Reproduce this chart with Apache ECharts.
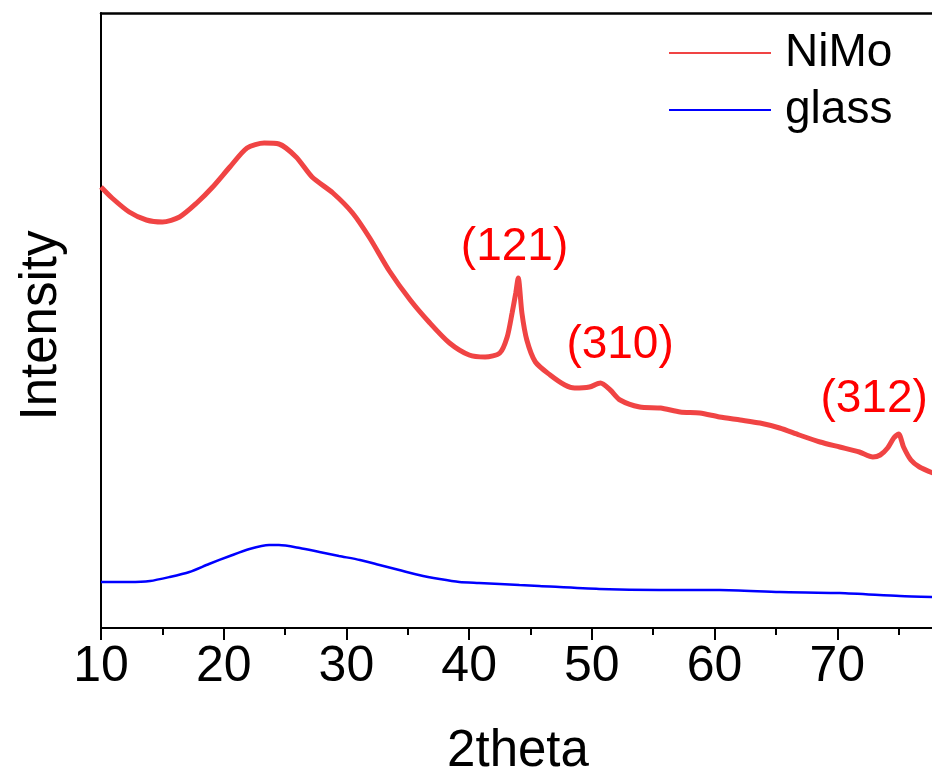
<!DOCTYPE html>
<html>
<head>
<meta charset="utf-8">
<script src="https://cdn.jsdelivr.net/npm/echarts@6/dist/echarts.min.js"></script>
<style>
  html, body { margin: 0; padding: 0; background: #fff; }
  #chart { width: 932px; height: 776px; }
</style>
</head>
<body>
<div id="chart"></div>
<script>
// XRD patterns: NiMo film on glass vs. bare glass substrate (arbitrary intensity units)
const twoThetaNiMo = [10.0, 10.9, 12.3, 13.7, 15.0, 16.4, 17.8, 19.1, 20.5, 21.9, 23.3, 24.5, 25.9, 27.2, 28.9, 30.5, 31.9, 33.5, 35.2, 36.8, 38.4, 40.0, 41.3, 42.5, 43.1, 43.5, 43.8, 44.0, 44.3, 44.7, 45.4, 46.6, 47.8, 48.6, 49.8, 50.7, 51.5, 52.3, 53.9, 55.6, 57.2, 58.8, 60.4, 62.1, 63.7, 65.3, 66.9, 68.6, 70.2, 71.8, 72.9, 73.5, 74.1, 74.6, 75.0, 75.4, 76.0, 76.7, 77.8];
const intensityNiMo = [441, 430, 416, 408, 406, 411, 425, 441, 461, 480, 485, 484, 471, 451, 435, 415, 390, 357, 328, 305, 285, 273, 271, 275, 291, 315, 335, 350, 315, 288, 266, 253, 243, 240, 241, 245, 238, 228, 221, 220, 216, 215, 211, 208, 205, 200, 193, 186, 181, 176, 171, 173, 180, 190, 194, 181, 168, 161, 155];

const twoThetaGlass = [10.0, 12.3, 14.0, 15.6, 17.2, 18.8, 20.5, 22.1, 23.7, 24.5, 26.2, 27.8, 29.4, 31.1, 32.7, 34.3, 35.9, 37.6, 39.2, 40.8, 42.5, 44.1, 45.7, 50.6, 55.5, 60.4, 65.3, 70.2, 75.1, 77.8];
const intensityGlass = [46, 46, 47, 51, 56, 64, 72, 79, 83, 83, 80, 76, 72, 68, 63, 58, 53, 49, 46, 45, 44, 43, 42, 39, 38, 38, 36, 35, 32, 31];

// Reflection labels and where they sit (2theta, intensity)
const peakLabels = ['(121)', '(310)', '(312)'];
const peakLabelTheta = [43.7, 52.3, 73.0];
const peakLabelIntensity = [381, 283, 229];

const seriesNames = ['NiMo', 'glass'];
const seriesColors = ['#F04444', '#0000FF'];

const zip = (xs, ys) => xs.map((x, i) => [x, ys[i]]);

const FONT = '"Liberation Sans", Arial, sans-serif';

const chart = echarts.init(document.getElementById('chart'));
chart.setOption({
  animation: false,
  backgroundColor: '#fff',
  // the 2theta axis runs on past the right edge of the canvas
  grid: {
    left: 101, top: 13, width: 859, height: 615,
    containLabel: false,
    outerBoundsMode: 'none'
  },
  legend: {
    orient: 'vertical',
    left: 669,
    top: 30,
    padding: 0,
    itemWidth: 102,
    itemHeight: 2,
    itemGap: 11,
    icon: 'rect',
    data: seriesNames,
    textStyle: { fontFamily: FONT, fontSize: 46, color: '#000', padding: [0, 0, 0, 9] }
  },
  xAxis: [
    {
      type: 'value',
      min: 10,
      max: 80,
      interval: 10,
      name: '2theta',
      nameLocation: 'middle',
      nameGap: 98,
      nameTextStyle: { fontFamily: FONT, fontSize: 51, color: '#000', padding: [0, 25, 0, 0] },
      axisLine: { lineStyle: { color: '#000', width: 2 } },
      axisTick: { inside: false, length: 12, lineStyle: { color: '#000', width: 2 } },
      minorTick: { show: true, splitNumber: 2, length: 7, lineStyle: { color: '#000', width: 2 } },
      axisLabel: { fontFamily: FONT, fontSize: 50, color: '#000', margin: 14, showMaxLabel: false },
      splitLine: { show: false }
    },
    {
      type: 'value',
      position: 'top',
      min: 10,
      max: 80,
      axisLine: { show: true, lineStyle: { color: '#000', width: 2.5 } },
      axisTick: { show: false },
      axisLabel: { show: false },
      splitLine: { show: false }
    }
  ],
  yAxis: {
    type: 'value',
    min: 0,
    max: 615,
    name: 'Intensity',
    nameLocation: 'middle',
    nameGap: 34,
    nameTextStyle: { fontFamily: FONT, fontSize: 51, color: '#000', padding: [0, 10, 0, 0] },
    axisLine: { show: true, lineStyle: { color: '#000', width: 2 } },
    axisTick: { show: false },
    axisLabel: { show: false },
    splitLine: { show: false }
  },
  series: [
    {
      name: seriesNames[0],
      type: 'line',
      data: zip(twoThetaNiMo, intensityNiMo),
      showSymbol: false,
      smooth: 0.25,
      color: seriesColors[0],
      lineStyle: { width: 5, color: seriesColors[0] },
      markPoint: {
        symbol: 'circle',
        symbolSize: 0,
        label: {
          show: true,
          position: 'inside',
          fontFamily: FONT,
          fontSize: 46,
          color: '#FF0000',
          formatter: p => p.name
        },
        data: peakLabels.map((t, i) => ({ name: t, coord: [peakLabelTheta[i], peakLabelIntensity[i]] }))
      }
    },
    {
      name: seriesNames[1],
      type: 'line',
      data: zip(twoThetaGlass, intensityGlass),
      showSymbol: false,
      smooth: 0.25,
      color: seriesColors[1],
      lineStyle: { width: 2.5, color: seriesColors[1] }
    }
  ]
});
</script>
</body>
</html>
